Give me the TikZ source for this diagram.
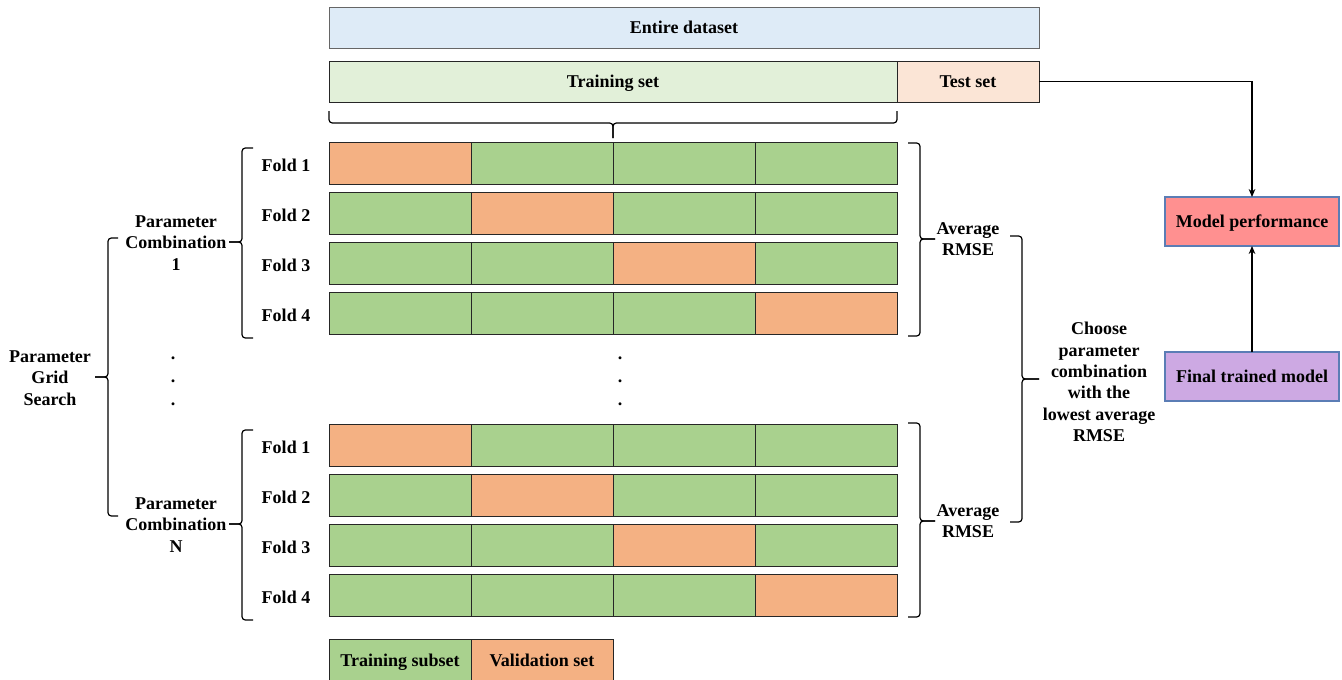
\documentclass[tikz,border=0pt]{standalone}
\usepackage{fontspec}
\setmainfont{Liberation Serif}
\usetikzlibrary{arrows.meta}
\definecolor{cgreen}{HTML}{A9D18E}
\definecolor{corange}{HTML}{F4B183}
\definecolor{lblue}{HTML}{DEEBF7}
\definecolor{lgreen}{HTML}{E2F0D9}
\definecolor{lorange}{HTML}{FBE5D6}
\definecolor{mperf}{HTML}{FF9090}
\definecolor{ftmc}{HTML}{CDA9E3}
\definecolor{bluebd}{HTML}{5B7DB5}
\begin{document}
\begin{tikzpicture}[x=0.75pt,y=-0.75pt,
  font=\fontsize{13.5}{16}\selectfont\bfseries,
  cell/.style={draw=black!85,line width=0.7pt,minimum width=106.5pt,minimum height=31.5pt,inner sep=0pt,outer sep=0pt},
  lbl/.style={align=center,inner sep=1pt},
  captext/.style={text height=9.5pt,text depth=0pt},
  brc/.style={line width=0.9pt,rounded corners=2.5pt},
  topbox/.style={captext,draw=black!85,line width=0.7pt,minimum height=30.75pt,inner sep=0pt,outer sep=0pt},
  resbox/.style={captext,draw=bluebd,line width=0.8pt,minimum width=130.5pt,minimum height=36.75pt,inner sep=0pt,outer sep=0pt},
  arr/.style={line width=0.8pt,-{Stealth[length=6pt,width=5pt]}},
  ]
\useasboundingbox (0,0) rectangle (1342,679);

% top boxes
\node[topbox,draw=black!60,fill=lblue,minimum width=532.5pt] (entire) at (684,27.5) {Entire dataset};
\node[topbox,fill=lgreen,minimum width=426pt] (train) at (613,81.5) {Training set};
\node[topbox,fill=lorange,minimum width=106.5pt] (test) at (968,81.5) {Test set};

% fold rows
\foreach \g/\yo in {A/142,B/424}{
  \foreach \r in {1,...,4}{
    \pgfmathsetmacro\yc{\yo+(\r-1)*50+21}
    \pgfmathsetmacro\yt{\yc+2}
    \node[lbl] (\g f\r) at (286,\yt) {Fold \r};
    \foreach \c in {1,...,4}{
      \pgfmathsetmacro\xc{400+(\c-1)*142}
      \ifnum\c=\r \def\fc{corange}\else\def\fc{cgreen}\fi
      \node[cell,fill=\fc] (\g r\r c\c) at (\xc,\yc) {};
    }
  }
}

% legend
\node[cell,fill=cgreen,minimum height=33pt] (legtr) at (400,661) {};
\node[cell,fill=corange,minimum height=33pt] (legva) at (542,661) {};
\node[lbl,captext] (legtrt) at (400,660) {Training subset};
\node[lbl,captext] (legvat) at (542,660) {Validation set};

% labels
\node[lbl] (pc1) at (176,243) {Parameter\\Combination\\1};
\node[lbl] (pcn) at (176,525) {Parameter\\Combination\\N};
\node[lbl] (pgs) at (50,378) {Parameter\\Grid\\Search};
\node[lbl] (avgA) at (968,239) {Average\\RMSE};
\node[lbl] (avgB) at (968,521) {Average\\RMSE};
\node[lbl] (choose) at (1099,382) {Choose\\parameter\\combination\\with the\\lowest average\\RMSE};

% dots
\foreach \y [count=\i] in {358,381,404}{
  \node[inner sep=0pt] (dl\i) at (173,\y) {.};
  \node[inner sep=0pt] (dr\i) at (620,\y) {.};
}

% result boxes
\node[resbox,fill=mperf] (mp) at (1252,221.5) {Model performance};
\node[resbox,fill=ftmc] (ftm) at (1252,376.5) {Final trained model};
\draw[arr] (test.east) -| (mp.north);
\draw[arr] (ftm.north) -- (mp.south);

% braces
% top brace under training set
\draw[brc] (329,111) -- (329,123) -- (613,123) -- (613,138);
\draw[brc] (897,111) -- (897,123) -- (613,123) -- (613,138);
% left fold braces
\draw[brc] (253,148) -- (242,148) -- (242,242) -- (229,242);
\draw[brc] (253,338) -- (242,338) -- (242,242) -- (229,242);
\draw[brc] (253,430) -- (242,430) -- (242,524) -- (229,524);
\draw[brc] (253,620) -- (242,620) -- (242,524) -- (229,524);
% big left brace
\draw[brc] (118,238) -- (108,238) -- (108,377) -- (95,377);
\draw[brc] (118,516) -- (108,516) -- (108,377) -- (95,377);
% right fold braces
\draw[brc] (908,143) -- (920,143) -- (920,239) -- (935,239);
\draw[brc] (908,336) -- (920,336) -- (920,239) -- (935,239);
\draw[brc] (908,423) -- (920,423) -- (920,521) -- (935,521);
\draw[brc] (908,617) -- (920,617) -- (920,521) -- (935,521);
% big right brace
\draw[brc] (1010,236) -- (1022,236) -- (1022,379) -- (1039,379);
\draw[brc] (1010,522) -- (1022,522) -- (1022,379) -- (1039,379);
\end{tikzpicture}
\end{document}
